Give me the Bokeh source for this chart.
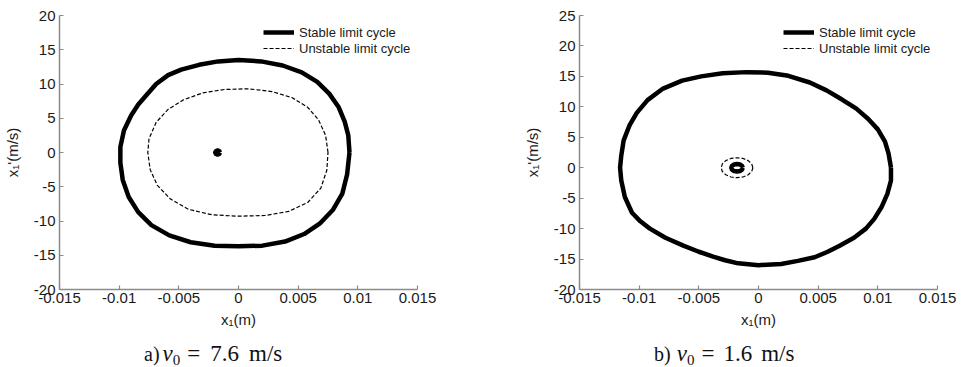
from bokeh.plotting import figure
from bokeh.layouts import row, column
from bokeh.models import Range1d, FixedTicker, Legend, LegendItem, Div
from bokeh.embed import file_html
from bokeh.resources import INLINE

# ---------------- data ----------------
x_ticks = [-0.015, -0.01, -0.005, 0, 0.005, 0.01, 0.015]
x_tick_labels = ["-0.015", "-0.01", "-0.005", "0", "0.005", "0.01", "0.015"]
ya_ticks = [-20, -15, -10, -5, 0, 5, 10, 15, 20]
yb_ticks = [-20, -15, -10, -5, 0, 5, 10, 15, 20, 25]

x_label = "x\u2081(m)"
y_label = "x\u2081'(m/s)"
legend_labels = ["Stable limit cycle", "Unstable limit cycle"]
caption_prefix = ["a)", "b)"]
v0_values = ["7.6", "1.6"]

# panel a) v0 = 7.6 m/s
a_stable_x = [0.0093, 0.0092, 0.0089, 0.0084, 0.0076, 0.0066, 0.0053, 0.0037, 0.0019, 0.0000,
              -0.0017, -0.0033, -0.0048, -0.0059, -0.0069, -0.0078, -0.0084, -0.0090, -0.0096,
              -0.0099, -0.0099, -0.0097, -0.0092, -0.0084, -0.0073, -0.0058, -0.0040, -0.0020,
              0.0000, 0.0020, 0.0039, 0.0055, 0.0068, 0.0079, 0.0087, 0.0091, 0.0093]
a_stable_y = [0.0, 2.5, 4.5, 6.6, 8.6, 10.3, 11.7, 12.7, 13.3, 13.5,
              13.3, 12.8, 12.1, 11.3, 10.0, 8.2, 7.0, 5.4, 3.2,
              0.8, -1.5, -4.0, -6.5, -8.7, -10.6, -12.1, -13.1, -13.6,
              -13.7, -13.6, -13.0, -11.9, -10.4, -8.4, -6.0, -3.2, 0.0]
a_unstable_x = [0.0075, 0.0073, 0.0067, 0.0058, 0.0045, 0.0028, 0.0008, -0.0012, -0.0030,
                -0.0046, -0.0059, -0.0069, -0.0075, -0.0076, -0.0074, -0.0068, -0.0057,
                -0.0042, -0.0022, 0.0000, 0.0022, 0.0042, 0.0058, 0.0069, 0.0074, 0.0075]
a_unstable_y = [0.0, 2.5, 4.8, 6.6, 8.0, 8.9, 9.3, 9.2, 8.7,
                7.7, 6.3, 4.4, 2.0, 0.0, -2.5, -4.8, -6.8,
                -8.3, -9.1, -9.3, -9.2, -8.6, -7.3, -5.2, -2.6, 0.0]
a_core_x = [-0.00155, -0.00161, -0.00175, -0.00189, -0.00195, -0.00189, -0.00175, -0.00161, -0.00155]
a_core_y = [0.0, 0.21, 0.30, 0.21, 0.0, -0.21, -0.30, -0.21, 0.0]

# panel b) v0 = 1.6 m/s
b_stable_x = [0.0111, 0.0109, 0.0106, 0.0100, 0.0092, 0.0082, 0.0070, 0.0057, 0.0043, 0.0025,
              0.0008, -0.0010, -0.0030, -0.0048, -0.0064, -0.0080, -0.0093, -0.0102, -0.0108,
              -0.0113, -0.0115, -0.0116, -0.0115, -0.0112, -0.0106, -0.0099, -0.0091, -0.0078,
              -0.0063, -0.0050, -0.0038, -0.0028, -0.0017, 0.0000, 0.0019, 0.0033, 0.0047,
              0.0058, 0.0068, 0.0080, 0.0090, 0.0097, 0.0103, 0.0108, 0.0111, 0.0111]
b_stable_y = [0.0, 2.3, 4.3, 6.3, 8.0, 9.7, 11.2, 12.7, 14.0, 15.1,
              15.6, 15.7, 15.5, 15.0, 14.3, 13.0, 11.1, 9.0, 7.0,
              4.5, 2.0, 0.0, -2.1, -4.8, -7.4, -8.8, -10.0, -11.5,
              -12.8, -13.8, -14.6, -15.2, -15.7, -16.0, -15.8, -15.3, -14.7,
              -13.8, -12.8, -11.5, -10.0, -8.4, -6.5, -4.3, -2.1, 0.0]
b_unstable_x = [-0.00047, -0.00057, -0.00086, -0.00129, -0.00180, -0.00231, -0.00274, -0.00303,
                -0.00313, -0.00303, -0.00274, -0.00231, -0.00180, -0.00129, -0.00086, -0.00057,
                -0.00047]
b_unstable_y = [0.0, 0.63, 1.16, 1.52, 1.64, 1.52, 1.16, 0.63,
                0.0, -0.63, -1.16, -1.52, -1.64, -1.52, -1.16, -0.63, 0.0]
b_core_x = [-0.00132, -0.00138, -0.00156, -0.00180, -0.00204, -0.00222, -0.00228, -0.00222,
            -0.00204, -0.00180, -0.00156, -0.00138, -0.00132]
b_core_y = [0.0, 0.31, 0.54, 0.62, 0.54, 0.31, 0.0, -0.31, -0.54, -0.62, -0.54, -0.31, 0.0]

# ---------------- style ----------------
AX_COLOR = "#8a8a8a"
TXT_COLOR = "#1a1a1a"
SANS = "Liberation Sans"
PLOT_H = 335
CAP_H = 32


def make_panel(width, right_border, y_range, y_ticks, stable, unstable, core):
    p = figure(width=width, height=PLOT_H, output_backend="svg", toolbar_location=None,
               x_range=Range1d(-0.015, 0.015), y_range=Range1d(*y_range),
               min_border_left=57, min_border_right=right_border,
               min_border_top=15, min_border_bottom=PLOT_H - 289)
    p.outline_line_color = None
    p.grid.visible = False
    p.background_fill_color = "white"
    p.border_fill_color = "white"

    p.xaxis.ticker = FixedTicker(ticks=x_ticks)
    p.xaxis.major_label_overrides = dict(zip(x_ticks, x_tick_labels))
    p.yaxis.ticker = FixedTicker(ticks=y_ticks)
    p.yaxis.major_label_overrides = {t: str(t) for t in y_ticks}
    for ax in (p.xaxis[0], p.yaxis[0]):
        ax.axis_line_color = AX_COLOR
        ax.axis_line_width = 1.5
        ax.major_tick_line_color = AX_COLOR
        ax.major_tick_line_width = 1.2
        ax.major_tick_in = 4
        ax.major_tick_out = 0
        ax.minor_tick_line_color = None
        ax.major_label_text_font = SANS
        ax.major_label_text_font_size = "15px"
        ax.major_label_text_color = TXT_COLOR
        ax.axis_label_text_font = SANS
        ax.axis_label_text_font_size = "15px"
        ax.axis_label_text_font_style = "normal"
        ax.axis_label_text_color = TXT_COLOR
    p.xaxis.major_label_standoff = 3
    p.yaxis.major_label_standoff = 4
    p.xaxis.axis_label = x_label
    p.yaxis.axis_label = y_label
    p.xaxis.axis_label_standoff = 5
    p.yaxis.axis_label_standoff = 10

    r1 = p.line(stable[0], stable[1], line_color="black", line_width=4.5, line_join="round")
    r2 = p.line(unstable[0], unstable[1], line_color="black", line_width=1.2,
                line_dash="4 2", line_join="round")
    p.line(core[0], core[1], line_color="black", line_width=4.5, line_join="round")

    legend = Legend(items=[LegendItem(label=legend_labels[0], renderers=[r1]),
                           LegendItem(label=legend_labels[1], renderers=[r2])],
                    location=(204, 233), padding=0, margin=0, spacing=0,
                    glyph_width=31, glyph_height=16, label_height=16, label_standoff=5,
                    border_line_color=None, background_fill_alpha=0,
                    label_text_font=SANS, label_text_font_size="13px",
                    label_text_color=TXT_COLOR)
    p.add_layout(legend)
    return p


def make_caption(width, prefix, v0, pad_left, gaps):
    g_v, g_eq, g_num, g_unit = gaps
    html = (
        f'<div style="font-family:\'Liberation Serif\',serif;font-size:20px;line-height:26px;'
        f'white-space:nowrap;padding-left:{pad_left}px;padding-top:6px;color:#111;">'
        f'<span>{prefix}</span>'
        f'<span style="font-size:23px;font-style:italic;margin-left:{g_v}px;">v</span>'
        f'<span style="font-size:15px;position:relative;top:4px;">0</span>'
        f'<span style="font-size:23px;margin-left:{g_eq}px;">=</span>'
        f'<span style="font-size:23px;margin-left:{g_num}px;">{v0}</span>'
        f'<span style="font-size:23px;margin-left:{g_unit}px;">m/s</span>'
        f'</div>'
    )
    return Div(text=html, width=width, height=CAP_H, margin=0)


pa = make_panel(520, 103, (-20, 20), ya_ticks,
                (a_stable_x, a_stable_y), (a_unstable_x, a_unstable_y), (a_core_x, a_core_y))
pb = make_panel(446, 29, (-20, 25), yb_ticks,
                (b_stable_x, b_stable_y), (b_unstable_x, b_unstable_y), (b_core_x, b_core_y))
ca = make_caption(520, caption_prefix[0], v0_values[0], 144, (3, 7, 10, 10))
cb = make_caption(446, caption_prefix[1], v0_values[1], 134, (6, 7, 9, 9))

layout = column(row(pa, pb, spacing=0), row(ca, cb, spacing=0), spacing=0)
open("out.html", "w").write(file_html(layout, INLINE))
